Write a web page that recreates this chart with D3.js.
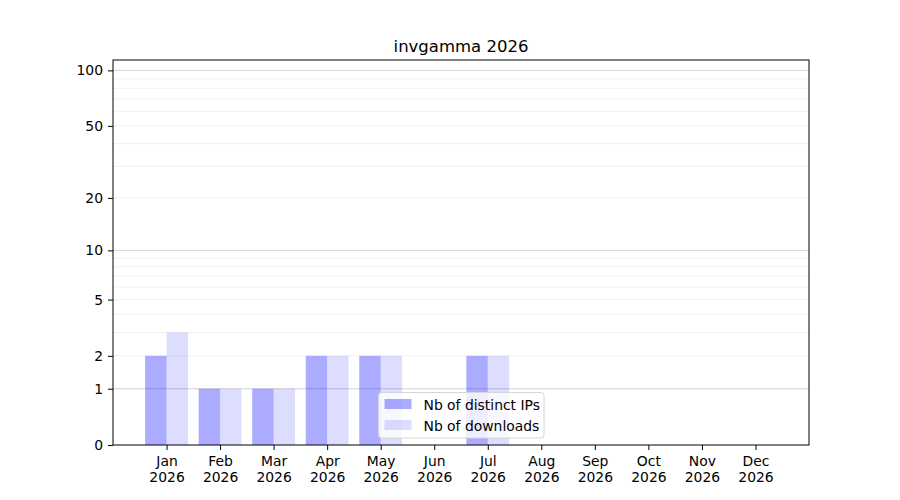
<!DOCTYPE html>
<html>
<head>
	<meta charset="utf-8">
	<title>invgamma 2026</title>
	<script src="https://cdn.jsdelivr.net/npm/d3@7/dist/d3.min.js"></script>
	<style>
		body { margin: 0; background: white; }
		svg { font-family: "DejaVu Sans", sans-serif; }
	</style>
</head>
<body>
	<svg id="chart" width="900" height="500"></svg>

	<script>
		// data
		var months = ['Jan', 'Feb', 'Mar', 'Apr', 'May', 'Jun', 'Jul', 'Aug', 'Sep', 'Oct', 'Nov', 'Dec'];
		var year = '2026';
		var distinctIPs = [2, 1, 1, 2, 2, 0, 2, 0, 0, 0, 0, 0];
		var downloads = [3, 1, 1, 2, 2, 0, 2, 0, 0, 0, 0, 0];
		var yTickLabels = [0, 1, 2, 5, 10, 20, 50, 100];
		var majorGrid = [1, 10, 100];
		var minorGrid = [2, 3, 4, 5, 6, 7, 8, 9, 20, 30, 40, 50, 60, 70, 80, 90];

		var svg = d3.select('#chart'),
			margin = {left: 113, right: 91, top: 60, bottom: 55},
			width = +svg.attr('width') - margin.left - margin.right,
			height = +svg.attr('height') - margin.top - margin.bottom;

		var g = svg.append('g')
			.attr('transform', 'translate(' + margin.left + ',' + margin.top + ')');

		// y axis is log10(1 + v)
		var lin = d3.scaleLinear().domain([0, 2.06]).range([height, 0]);
		var y = v => lin(Math.log10(1 + v));

		var x = d3.scaleLinear().domain([-1, 12]).range([0, width]);
		var barW = x(0.4) - x(0);

		// grid
		g.append('g').selectAll('line')
			.data(minorGrid)
			.enter().append('line')
			.attr('x1', 0).attr('x2', width)
			.attr('y1', d => y(d)).attr('y2', d => y(d))
			.attr('stroke', '#ececec').attr('stroke-width', 0.8);
		g.append('g').selectAll('line')
			.data(majorGrid)
			.enter().append('line')
			.attr('x1', 0).attr('x2', width)
			.attr('y1', d => y(d)).attr('y2', d => y(d))
			.attr('stroke', '#c8c8c8').attr('stroke-width', 0.8);

		// bars
		g.append('g').selectAll('rect')
			.data(distinctIPs)
			.enter().append('rect')
			.attr('x', (d, i) => x(i - 0.4))
			.attr('width', barW)
			.attr('y', d => y(d))
			.attr('height', d => y(0) - y(d))
			.attr('fill', 'blue').attr('fill-opacity', 0.33);
		g.append('g').selectAll('rect')
			.data(downloads)
			.enter().append('rect')
			.attr('x', (d, i) => x(i))
			.attr('width', barW)
			.attr('y', d => y(d))
			.attr('height', d => y(0) - y(d))
			.attr('fill', 'blue').attr('fill-opacity', 0.135);

		// axes
		var yAxis = d3.axisLeft(lin)
			.tickValues(yTickLabels.map(v => Math.log10(1 + v)))
			.tickFormat((d, i) => yTickLabels[i])
			.tickSize(5).tickPadding(5);
		g.append('g').call(yAxis)
			.attr('font-family', 'DejaVu Sans')
			.attr('font-size', 13.9)
			.call(s => s.select('.domain').remove())
			.call(s => s.selectAll('text').attr('fill', 'black'));

		var xAxis = d3.axisBottom(x)
			.tickValues(d3.range(months.length))
			.tickFormat('')
			.tickSize(5);
		var xg = g.append('g')
			.attr('transform', 'translate(0,' + height + ')')
			.call(xAxis)
			.attr('font-family', 'DejaVu Sans')
			.attr('font-size', 13.9)
			.call(s => s.select('.domain').remove());
		xg.selectAll('.tick').append('text')
			.attr('fill', 'black')
			.attr('text-anchor', 'middle')
			.selectAll('tspan')
			.data((d, i) => [months[i], year])
			.enter().append('tspan')
			.attr('x', 0)
			.attr('y', (d, j) => 21 + j * 15.7)
			.text(d => d);

		// frame
		g.append('rect')
			.attr('width', width).attr('height', height)
			.attr('fill', 'none').attr('stroke', 'black').attr('stroke-width', 1);

		// title
		svg.append('text')
			.attr('x', margin.left + width / 2)
			.attr('y', 52)
			.attr('text-anchor', 'middle')
			.style('font-size', '16.5px')
			.text('invgamma ' + year);

		// legend
		var legend = svg.append('g').attr('transform', 'translate(378.5,392.5)');
		legend.append('rect')
			.attr('width', 165.5).attr('height', 45.5).attr('rx', 3)
			.attr('fill', 'white').attr('fill-opacity', 0.8)
			.attr('stroke', '#d6d6d6');
		var items = [['Nb of distinct IPs', 0.33], ['Nb of downloads', 0.135]];
		var row = legend.selectAll('.item')
			.data(items)
			.enter().append('g')
			.attr('transform', (d, i) => 'translate(6,' + (6.5 + i * 21) + ')');
		row.append('rect')
			.attr('width', 27).attr('height', 10)
			.attr('fill', 'blue').attr('fill-opacity', d => d[1]);
		row.append('text')
			.attr('x', 39).attr('y', 10.5)
			.style('font-size', '13.9px')
			.text(d => d[0]);
	</script>
</body>
</html>
